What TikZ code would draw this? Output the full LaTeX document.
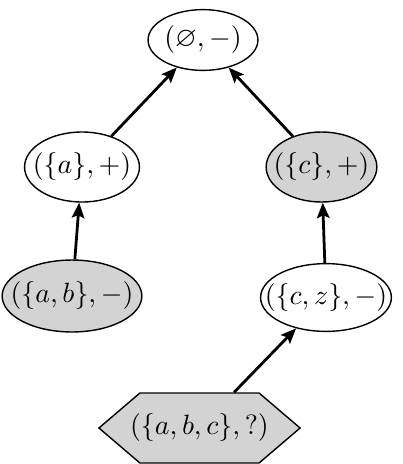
\documentclass[tikz,border=0pt]{standalone}
\usepackage{amsmath,amssymb}
\usepackage{tikz}
\usetikzlibrary{arrows.meta,shapes.geometric,shapes.symbols}
\definecolor{nodegray}{RGB}{211,211,211}

\begin{document}
\begin{tikzpicture}[
>={Stealth[length=5.5pt,width=4.5pt,inset=1pt]}, line width=1pt, x=0.0126cm, y=-0.0126cm,
state node/.style={ellipse, draw, line width=0.5pt, inner xsep=-6pt, inner ysep=0pt},
grey node/.style={state node, fill=nodegray},
root node/.style={signal, signal to=west and east, signal pointer angle=81,
  draw, line width=0.5pt, fill=nodegray, inner xsep=-3.5pt,
  minimum width=72pt, minimum height=25.1pt}
	]
	\useasboundingbox (0,0) rectangle (402,464);
	% Nodes
	\node[state node, minimum width=39.4pt, minimum height=21.8pt] (E) at (203,40) {$(\varnothing,-)$};
	\node[state node, minimum width=41.2pt, minimum height=25.1pt] (A) at (82,167) {$(\{a\},+)$};
	\node[grey node, minimum width=39.7pt, minimum height=25.1pt] (C) at (321.5,167) {$(\{c\},+)$};
	\node[grey node, minimum width=50.1pt, minimum height=25.8pt] (AB) at (72,296) {$(\{a,b\},-)$};
	\node[state node, minimum width=46.9pt, minimum height=24.3pt] (CZ) at (326,297.5) {$(\{c,z\},-)$};
	\node[root node] (ABC) at (199.5,428) {$(\{a,b,c\},?)$};
	% Edges
	\path
	(A) edge[->] (E)
	(C) edge[->] (E)
	(AB) edge[->] (A)
	(CZ) edge[->] (C)
	(ABC) edge[->] (CZ);
\end{tikzpicture}
\end{document}
